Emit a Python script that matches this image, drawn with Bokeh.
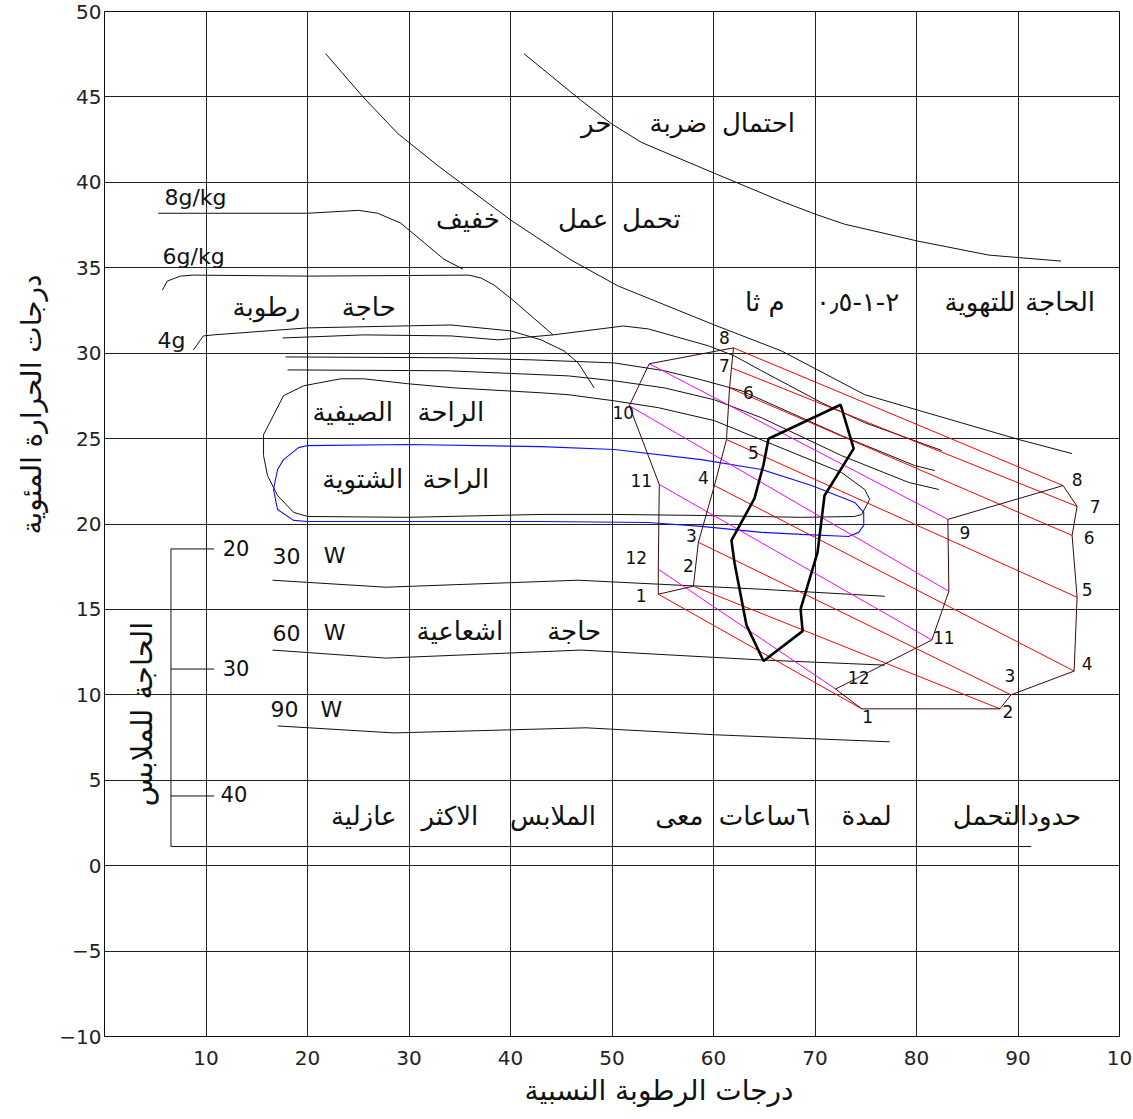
import numpy as np
from bokeh.plotting import figure
from bokeh.models import FixedTicker, Title, ColumnDataSource
from bokeh.core.properties import value
from bokeh.embed import file_html
from bokeh.resources import INLINE

FONT = "DejaVu Sans"

# ---------------- axes ----------------
x_ticks = [10, 20, 30, 40, 50, 60, 70, 80, 90, 100]
y_ticks = [-10, -5, 0, 5, 10, 15, 20, 25, 30, 35, 40, 45, 50]

# ---------------- curves (RH %, T degC) ----------------
heat_rh = [41.33, 46.96, 49.92, 52.89, 60.09, 66.70, 70.06, 72.92, 80.13, 87.14, 94.24]
heat_t = [47.53, 44.79, 43.44, 42.34, 40.53, 38.89, 38.13, 37.55, 36.56, 35.74, 35.39]

work_rh = [21.79, 25.44, 28.89, 32.94, 40.05, 45.97, 50.61, 60.09, 66.70, 74.90, 90.10, 95.33]
work_t = [47.53, 45.02, 42.86, 40.93, 37.78, 35.45, 33.93, 31.65, 30.13, 27.57, 24.94, 24.12]

g8_rh = [5.30, 20.01, 25.04, 26.92, 29.19, 33.44, 35.31]
g8_t = [38.19, 38.19, 38.36, 38.19, 37.61, 35.50, 34.92]

g6_rh = [5.70, 6.19, 7.47, 8.76, 20.01, 35.91, 37.09, 38.37, 40.35, 44.19]
g6_t = [33.69, 34.22, 34.51, 34.57, 34.51, 34.57, 34.40, 33.99, 33.05, 31.07]

g4_rh = [8.76, 9.74, 10.73, 20.01, 34.13, 40.05, 43.01, 45.28, 46.67, 48.24]
g4_t = [30.19, 31.01, 31.07, 31.48, 31.65, 31.30, 30.78, 30.13, 29.43, 27.97]

b_rh = [17.54, 25.54, 34.13, 38.76, 44.19, 51.11, 53.57, 59.50, 62.06, 64.73, 70.65, 74.90, 82.50]
b_t = [30.89, 31.07, 31.01, 30.78, 31.07, 31.59, 31.42, 30.43, 29.84, 28.97, 27.10, 25.93, 24.30]

c_rh = [17.84, 34.13, 42.02, 50.22, 55.15, 58.81, 62.75, 72.63, 79.82, 81.80]
c_t = [29.78, 29.73, 29.61, 29.43, 28.97, 28.44, 27.80, 25.17, 23.42, 23.13]

d_rh = [18.04, 33.83, 45.68, 50.22, 55.15, 60.09, 64.73, 72.63, 79.24, 82.20]
d_t = [29.02, 28.97, 28.67, 28.38, 27.97, 27.27, 26.22, 24.00, 22.43, 22.02]

summer_rh = [15.67, 17.64, 19.62, 23.27, 25.54, 29.88, 34.42, 43.01, 45.68, 50.22, 54.56, 60.09,
             65.41, 72.63, 74.90, 75.39, 74.60, 73.91, 68.68, 58.81, 50.22, 43.01, 29.88, 20.01,
             18.63, 17.05, 16.06, 15.67]
summer_t = [25.23, 27.51, 28.09, 28.50, 28.50, 28.21, 27.97, 27.68, 27.57, 27.21, 26.81, 26.05,
            24.76, 23.01, 22.02, 21.44, 20.56, 20.44, 20.39, 20.50, 20.56, 20.56, 20.39, 20.44,
            20.68, 21.67, 22.84, 24.00]

winter_rh = [16.65, 17.05, 17.64, 19.12, 20.01, 29.88, 43.01, 50.22, 58.81, 64.73, 69.66, 73.91,
             74.80, 74.80, 74.30, 73.31, 68.68, 64.73, 58.81, 53.57, 43.01, 20.01, 18.63, 17.05]
winter_t = [22.02, 23.19, 23.77, 24.47, 24.59, 24.65, 24.53, 24.36, 23.77, 23.19, 22.25, 21.26,
            20.68, 19.92, 19.51, 19.27, 19.39, 19.51, 19.86, 20.09, 20.15, 20.15, 20.21, 20.85]

w30_rh = [16.55, 27.71, 46.67, 64.73, 76.87]
w30_t = [16.71, 16.30, 16.71, 16.18, 15.77]
w60_rh = [16.55, 27.71, 46.96, 64.73, 76.87]
w60_t = [12.62, 12.15, 12.62, 12.04, 11.74]
w90_rh = [17.05, 28.50, 47.44, 60.18, 77.37]
w90_t = [8.18, 7.77, 8.07, 7.66, 7.25]

# monthly climate points (day: max T / min RH, night: min T / max RH)
months = [1, 2, 3, 4, 5, 6, 7, 8, 9, 10, 11, 12]
day_rh = [54.56, 58.02, 58.51, 60.09, 61.28, 61.58, 61.77, 61.97, 53.67, 51.70, 54.66, 54.56]
day_t = [15.89, 16.36, 18.93, 22.25, 24.94, 27.97, 29.14, 30.31, 29.38, 26.92, 22.31, 17.35]
night_rh = [74.60, 88.22, 89.31, 95.53, 95.82, 95.33, 95.82, 94.44, 83.09, 83.19, 81.51, 72.03]
night_t = [9.18, 9.18, 10.00, 11.39, 15.71, 19.33, 21.03, 22.25, 20.27, 16.06, 13.21, 10.34]

day_lab_x = [52.88, 57.52, 57.82, 59.00, 63.94, 63.44, 61.07, 61.07, None, 51.11, 52.88, 52.39]
day_lab_y = [15.83, 17.58, 19.33, 22.72, 24.18, 27.68, 29.26, 30.89, None, 26.52, 22.55, 18.05]
night_lab_x = [75.19, 89.01, 89.21, 96.81, 96.81, 97.00, 97.60, 95.82, 84.77, None, 82.69, 74.30]
night_lab_y = [8.71, 9.00, 11.16, 11.86, 16.18, 19.22, 21.03, 22.60, 19.51, None, 13.38, 10.99]

thick_rh = [65.42, 72.53, 73.81, 70.94, 70.25, 68.58, 68.78, 64.93, 63.25, 62.06, 61.77, 64.04, 64.93]
thick_t = [24.99, 26.98, 24.41, 21.67, 18.34, 15.02, 13.73, 11.98, 14.08, 17.76, 19.04, 21.50, 23.48]

# clothing scale
clo_vals = ["20", "30", "40"]
clo_t = [18.54, 11.51, 4.08]
clo_x = 6.55
clo_tick_end = 10.8
clo_bottom_t = 1.12
clo_right = 91.3

# ---------------- texts ----------------
ar_text = ["احتمال", "ضربة", "حر",
           "تحمل", "عمل", "خفيف",
           "الحاجة", "للتهوية", "٢-١-٠٫٥", "م ثا",
           "حاجة", "رطوبة",
           "الراحة", "الصيفية",
           "الراحة", "الشتوية",
           "حاجة", "اشعاعية",
           "حدودالتحمل", "لمدة", "٦ساعات", "معى", "الملابس", "الاكثر", "عازلية"]
ar_x = [64.43, 56.53, 48.45,
        53.87, 47.16, 35.80,
        94.15, 86.25, 74.20, 65.06,
        26.03, 15.96,
        34.12, 24.45,
        34.62, 25.44,
        46.27, 35.01,
        89.90, 75.09, 65.02, 56.63, 44.19, 34.03, 25.54]
ar_y = [43.48, 43.48, 43.48,
        37.87, 37.87, 37.87,
        32.97, 32.97, 32.97, 32.97,
        32.68, 32.68,
        26.55, 26.55,
        22.64, 22.64,
        13.76, 13.76,
        2.91, 2.91, 2.91, 2.91, 2.91, 2.91, 2.91]

lat_text = ["8g/kg", "6g/kg", "4g", "30", "W", "60", "W", "90", "W"]
lat_x = [5.91, 5.72, 5.21, 16.55, 21.59, 16.55, 21.59, 16.36, 21.29]
lat_y = [39.11, 35.65, 30.76, 18.15, 18.15, 13.63, 13.63, 9.15, 9.15]

clo_lab_x = [11.64, 11.64, 11.44]
clo_lab_y = [18.60, 11.59, 4.18]

x_title = "درجات الرطوبة النسبية"
y_title = "درجات الحرارة المئوية"
clo_title = "الحاجة للملابس"

# ---------------- figure ----------------
p = figure(width=1133, height=1119, x_range=(0, 100), y_range=(-10, 50),
           output_backend="svg", toolbar_location=None,
           min_border_left=104, min_border_right=14, min_border_top=11, min_border_bottom=83)
p.background_fill_color = "white"
p.border_fill_color = "white"
p.outline_line_color = "#111111"
p.outline_line_width = 1

p.xaxis.ticker = FixedTicker(ticks=x_ticks)
p.yaxis.ticker = FixedTicker(ticks=y_ticks)
p.xaxis.major_label_overrides = {100: "10"}
for ax in (p.xaxis, p.yaxis):
    ax.axis_line_color = None
    ax.major_tick_line_color = None
    ax.minor_tick_line_color = None
    ax.major_tick_out = 0
    ax.major_tick_in = 0
    ax.major_label_text_font = FONT
    ax.major_label_text_font_size = "20px"
    ax.major_label_text_color = "#222222"
p.xaxis.major_label_standoff = 14
p.yaxis.major_label_standoff = 3
p.grid.grid_line_color = "#222222"
p.grid.grid_line_width = 1
p.grid.grid_line_alpha = 1

# axis titles placed as side-panel titles
p.add_layout(Title(text=x_title, align="right", offset=326, standoff=8,
                   text_font=FONT, text_font_size="28px", text_font_style="normal",
                   text_color="#111111"), "below")
p.add_layout(Title(text=y_title, align="right", offset=263, standoff=18,
                   text_font=FONT, text_font_size="28px", text_font_style="normal",
                   text_color="#111111"), "left")

BLACK = "#111111"
for xs, ys in ((heat_rh, heat_t), (work_rh, work_t), (g8_rh, g8_t), (g6_rh, g6_t),
               (g4_rh, g4_t), (b_rh, b_t), (c_rh, c_t), (d_rh, d_t),
               (w30_rh, w30_t), (w60_rh, w60_t), (w90_rh, w90_t)):
    p.line(xs, ys, line_color=BLACK, line_width=1)

def closed(a):
    return list(a) + [a[0]]

p.line(closed(summer_rh), closed(summer_t), line_color=BLACK, line_width=1)
p.line(closed(winter_rh), closed(winter_t), line_color="#1010ff", line_width=1.1)

# monthly lines
colors = ["#ff0000" if m <= 8 else "#ff00ff" for m in months]
p.segment(x0=day_rh, y0=day_t, x1=night_rh, y1=night_t, line_color=colors, line_width=1)
BROWN = "#3a0808"
p.line(closed(day_rh), closed(day_t), line_color=BROWN, line_width=1)
p.line(closed(night_rh), closed(night_t), line_color=BROWN, line_width=1)

p.line(closed(thick_rh), closed(thick_t), line_color="black", line_width=2.6)

# clothing scale bracket
p.line([clo_x, clo_x, clo_right], [clo_t[0], clo_bottom_t, clo_bottom_t], line_color=BLACK, line_width=1)
p.segment(x0=[clo_x] * 3, y0=clo_t, x1=[clo_tick_end] * 3, y1=clo_t, line_color=BLACK, line_width=1)

# month labels
ml_x, ml_y, ml_t = [], [], []
for m, lx, ly in zip(months, day_lab_x, day_lab_y):
    if lx is not None:
        ml_x.append(lx); ml_y.append(ly); ml_t.append(str(m))
for m, lx, ly in zip(months, night_lab_x, night_lab_y):
    if lx is not None:
        ml_x.append(lx); ml_y.append(ly); ml_t.append(str(m))
p.text(x="x", y="y", text="t", source=ColumnDataSource(dict(x=ml_x, y=ml_y, t=ml_t)),
       text_font=value(FONT), text_font_size=value("17px"), text_align="center",
       text_baseline="middle", text_color="#111111")

# Arabic labels
p.text(x="x", y="y", text="t", source=ColumnDataSource(dict(x=ar_x, y=ar_y, t=ar_text)),
       text_font=value(FONT), text_font_size=value("26px"), text_align="center",
       text_baseline="alphabetic", text_color="#111111")

# Latin labels
p.text(x="x", y="y", text="t", source=ColumnDataSource(dict(x=lat_x, y=lat_y, t=lat_text)),
       text_font=value(FONT), text_font_size=value("22px"), text_align="left",
       text_baseline="alphabetic", text_color="#111111")
p.text(x="x", y="y", text="t", source=ColumnDataSource(dict(x=clo_lab_x, y=clo_lab_y, t=clo_vals)),
       text_font=value(FONT), text_font_size=value("21px"), text_align="left",
       text_baseline="alphabetic", text_color="#111111")

# vertical clothing title
p.text(x=[3.72], y=[8.88], text=[clo_title], angle=np.pi / 2,
       text_font=value(FONT), text_font_size=value("29px"), text_align="center",
       text_baseline="alphabetic", text_color="#111111")

open("out.html", "w").write(file_html(p, INLINE))
